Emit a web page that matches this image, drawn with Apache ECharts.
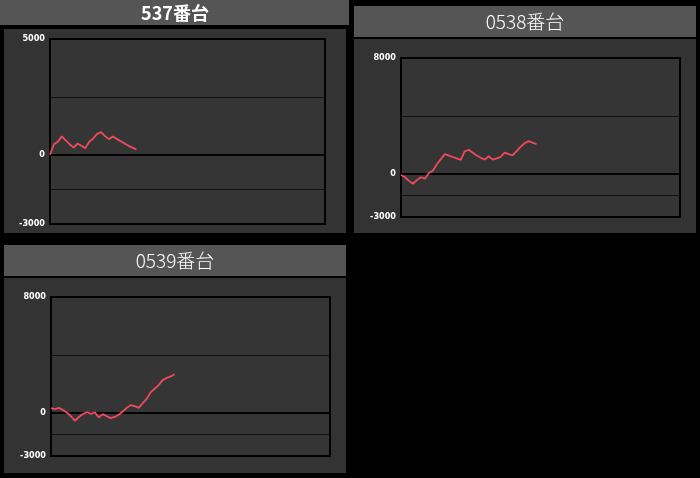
<!DOCTYPE html>
<html><head><meta charset="utf-8">
<script src="https://cdn.jsdelivr.net/npm/echarts@6/dist/echarts.min.js"></script>
<style>html,body{margin:0;padding:0;background:#000;}#c{width:700px;height:478px;}</style>
</head><body><div id="c"></div>
<script>
const titles = ['537番台', '0538番台', '0539番台'];
const s537 = [0, 450, 560, 790, 620, 450, 300, 480, 380, 280, 560, 700, 900, 970, 800, 670, 780, 680, 580, 480, 380, 300, 230];
const s538 = [-100, -250, -500, -700, -450, -250, -350, 50, 200, 650, 1000, 1350, 1250, 1150, 1050, 950, 1550, 1650, 1450, 1250, 1100, 970, 1200, 970, 1050, 1150, 1450, 1350, 1270, 1550, 1850, 2100, 2250, 2150, 2030];
const s539 = [320, 250, 330, 180, 0, -250, -560, -300, -100, 30, -80, 20, -330, -100, -250, -380, -300, -150, 80, 330, 520, 450, 330, 650, 950, 1400, 1650, 1900, 2250, 2400, 2500, 2650];
const yMins = [-3000, -3000, -3000];
const yMaxs = [5000, 8000, 8000];
const guides = [[2500, -1500], [4000, -1500], [4000, -1500]];
const xMax = 70;

const seriesData = [s537, s538, s539];
const grids = [
  {left: 50, top: 39, width: 275, height: 185},
  {left: 401, top: 58, width: 279, height: 159},
  {left: 51, top: 297, width: 279, height: 159}
];
const titleBars = [
  {x: 0, y: 0, w: 349, h: 25, cx: 175, cy: 13, bold: true, size: 18},
  {x: 354, y: 6, w: 342, h: 31, cx: 525, cy: 22, bold: false, size: 19},
  {x: 4, y: 245, w: 342, h: 31, cx: 175, cy: 261, bold: false, size: 19}
];
const panels = [
  {x: 4, y: 29, w: 342, h: 204},
  {x: 354, y: 39, w: 342, h: 194},
  {x: 4, y: 278, w: 342, h: 195}
];

const chart = echarts.init(document.getElementById('c'), null, {renderer: 'canvas'});
const graphic = [];
panels.forEach(p => graphic.push({type: 'rect', z: -10, shape: {x: p.x, y: p.y, width: p.w, height: p.h}, style: {fill: '#333333'}}));
titleBars.forEach((t, i) => {
  graphic.push({type: 'rect', z: -10, shape: {x: t.x, y: t.y, width: t.w, height: t.h}, style: {fill: '#555555'}});
  graphic.push({type: 'text', z: 10, x: t.cx, y: t.cy, style: {text: titles[i], fill: '#ffffff', font: (t.bold ? 'bold ' : '300 ') + t.size + 'px "Noto Sans CJK JP", sans-serif', align: 'center', verticalAlign: 'middle'}});
});

const guideSeries = grids.map((g, i) => ({
  type: 'line', xAxisIndex: i, yAxisIndex: i, data: [], silent: true, z: 1,
  markLine: {
    silent: true, symbol: 'none', label: {show: false}, animation: false,
    data: [
      {yAxis: guides[i][0], lineStyle: {color: '#111', width: 1, type: 'solid'}},
      {yAxis: 0, lineStyle: {color: '#000', width: 2, type: 'solid'}},
      {yAxis: guides[i][1], lineStyle: {color: '#111', width: 1, type: 'solid'}}
    ]
  }
}));
const dataSeries = seriesData.map((d, i) => ({
  type: 'line', xAxisIndex: i, yAxisIndex: i,
  data: d.map((v, k) => [k, v]),
  showSymbol: false, silent: true,
  lineStyle: {color: '#f04a5c', width: 1.8},
  itemStyle: {color: '#f04a5c'},
  z: 5
}));

const option = {
  backgroundColor: '#000',
  animation: false,
  graphic: graphic,
  grid: grids.map(g => Object.assign({show: true, backgroundColor: '#353535', borderColor: '#000', borderWidth: 2, containLabel: false}, g)),
  xAxis: grids.map((g, i) => ({gridIndex: i, type: 'value', min: 0, max: xMax, show: false})),
  yAxis: grids.map((g, i) => ({
    gridIndex: i, type: 'value', min: yMins[i], max: yMaxs[i],
    axisLine: {show: false}, axisTick: {show: false}, splitLine: {show: false},
    axisLabel: {customValues: [yMins[i], 0, yMaxs[i]], formatter: v => String(v), color: '#fff', fontSize: 9, fontWeight: 'bold', margin: 5,
      fontFamily: '"Liberation Sans Narrow", "DejaVu Sans Condensed", sans-serif'}
  })),
  series: guideSeries.concat(dataSeries)
};
chart.setOption(option);
</script></body></html>
